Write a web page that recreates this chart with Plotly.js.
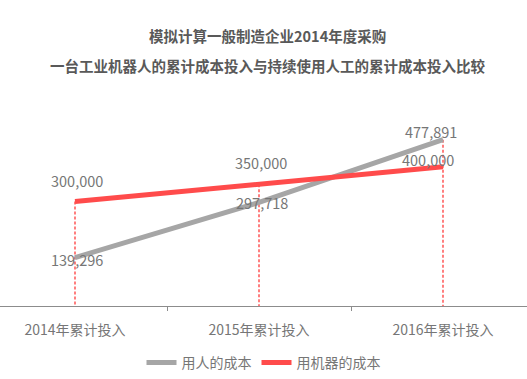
<!DOCTYPE html>
<html>
<head>
<meta charset="utf-8">
<script src="https://cdn.plot.ly/plotly-3.0.1.min.js"></script>
<style>html,body{margin:0;padding:0;background:#fff;}#chart{width:527px;height:379px;}</style>
</head>
<body>
<div id="chart"></div>
<script>
const categories = ["2014年累计投入", "2015年累计投入", "2016年累计投入"];
const humanCost = [139296, 297718, 477891];
const robotCost = [300000, 350000, 400000];
const seriesNames = ["用人的成本", "用机器的成本"];
const titleLines = ["模拟计算一般制造企业2014年度采购", "一台工业机器人的累计成本投入与持续使用人工的累计成本投入比较"];

const font = "'Noto Sans CJK SC', 'Microsoft YaHei', sans-serif";
const fmt = v => v.toLocaleString("en-US");

// drop lines from the higher point of each category down to the axis
const dropX = [], dropY = [];
categories.forEach((c, i) => {
  dropX.push(c, c, null);
  dropY.push(Math.max(humanCost[i], robotCost[i]), 0, null);
});

const traces = [
  {x: dropX, y: dropY, mode: "lines", showlegend: false, hoverinfo: "skip",
   line: {color: "#FF2A2A", width: 1.2, dash: "3px,2px"}},
  {x: categories, y: humanCost, name: seriesNames[0], mode: "lines",
   line: {color: "#A6A6A6", width: 5}},
  {x: categories, y: robotCost, name: seriesNames[1], mode: "lines",
   line: {color: "#FF4B4B", width: 5}}
];

// label offsets (pixels) per point
const humanShift = [[2, -2], [3, 0], [-12, 8]];
const robotShift = [[2, 21], [2, 22], [-15, 7]];
const annotations = [];
categories.forEach((c, i) => {
  annotations.push({x: c, y: humanCost[i], xref: "x", yref: "y", text: fmt(humanCost[i]),
    showarrow: false, xshift: humanShift[i][0], yshift: humanShift[i][1],
    font: {family: font, size: 14.5, color: "#767676"}});
  annotations.push({x: c, y: robotCost[i], xref: "x", yref: "y", text: fmt(robotCost[i]),
    showarrow: false, xshift: robotShift[i][0], yshift: robotShift[i][1],
    font: {family: font, size: 14.5, color: "#767676"}});
});
const plotH = 379 - 100 - 72;
annotations.push({x: 0.508, y: (307 - 35) / plotH, xref: "paper", yref: "paper", yanchor: "middle",
  text: "<b>" + titleLines[0] + "</b>", showarrow: false,
  font: {family: font, size: 14.5, color: "#595959"}});
annotations.push({x: 0.508, y: (307 - 65) / plotH, xref: "paper", yref: "paper", yanchor: "middle",
  text: "<b>" + titleLines[1] + "</b>", showarrow: false,
  font: {family: font, size: 14.5, color: "#595959"}});

const layout = {
  width: 527, height: 379,
  margin: {l: 0, r: 0, t: 100, b: 72},
  paper_bgcolor: "#fff", plot_bgcolor: "#fff",
  showlegend: true,
  legend: {orientation: "h", x: 0.5, xanchor: "center", y: (307 - 364) / plotH, yanchor: "middle",
    font: {family: font, size: 14, color: "#767676"}, itemwidth: 30},
  xaxis: {type: "category", range: [-0.40761, 2.45652], showgrid: false, zeroline: false,
    showline: true, linecolor: "#8C8C8C", linewidth: 1,
    ticks: "outside", tickson: "boundaries", ticklen: 4, tickcolor: "#8C8C8C",
    tickfont: {family: font, size: 14, color: "#767676"}, ticklabelstandoff: 11,
    fixedrange: true},
  yaxis: {range: [0, 592000], visible: false, showgrid: false, zeroline: false, fixedrange: true},
  annotations: annotations
};

Plotly.newPlot("chart", traces, layout, {displayModeBar: false, staticPlot: true});
</script>
</body>
</html>
